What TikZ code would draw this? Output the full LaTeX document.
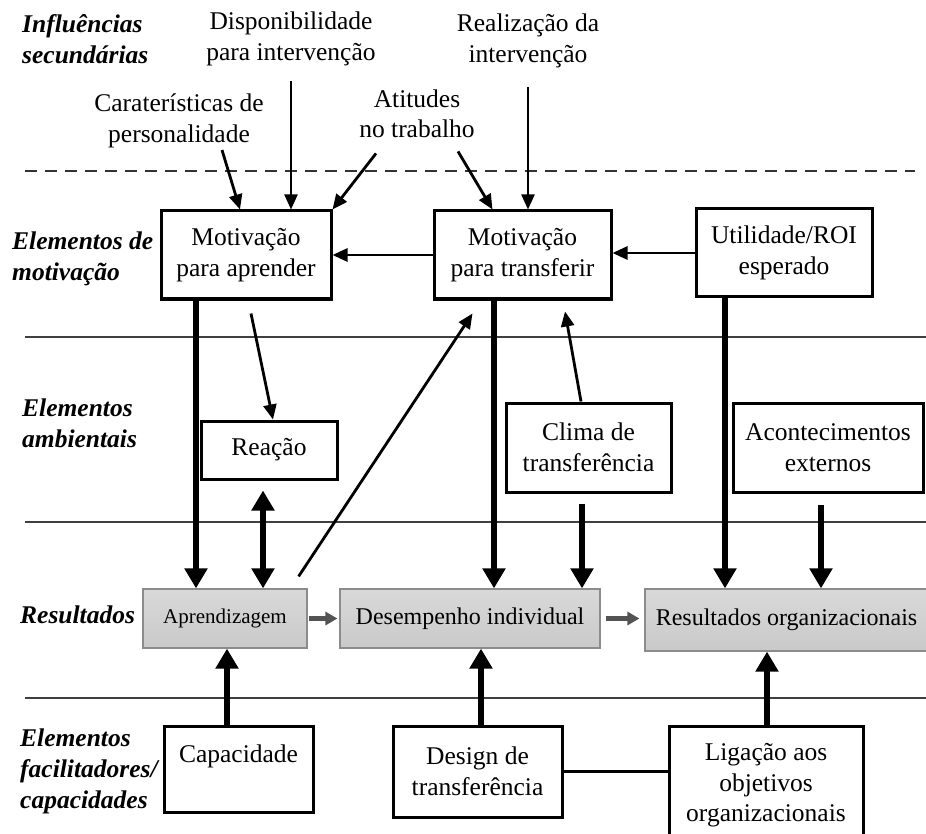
\documentclass[tikz,border=0pt]{standalone}
\usepackage{fontspec}
\setmainfont{Liberation Serif}
\usetikzlibrary{arrows.meta, positioning}

\begin{document}
\begin{tikzpicture}[x=1pt, y=-1pt,
    txt/.style={font=\fontsize{25.5}{30.5}\selectfont, align=center, inner sep=2pt},
    lab/.style={font=\fontsize{25.5}{31}\selectfont\bfseries\itshape, align=left, anchor=west, inner sep=0pt},
    box/.style={txt, draw, line width=3pt, fill=white},
    resbox/.style={font=\fontsize{24}{30}\selectfont, draw=gray!90, line width=1.2pt, top color=gray!30, bottom color=gray!42},
    divider/.style={line width=2pt, black!75},
    dashdiv/.style={line width=2pt, black!80, dash pattern=on 12pt off 8pt},
    arrthin/.style={-{Triangle[width=13pt,length=15pt]}, line width=2.8pt},
    arrthick/.style={-{Triangle[width=22pt,length=20pt]}, line width=6pt},
    arrgray/.style={-{Triangle[width=13pt,length=12pt]}, line width=4.5pt, gray!65!black}]

    \useasboundingbox (0,0) rectangle (926,834);

    % Divisorias
    \draw[dashdiv] (25,171) -- (915,171);
    \draw[divider] (25,337) -- (926,337);
    \draw[divider] (25,522) -- (926,522);
    \draw[divider] (25,698) -- (926,698);

    % Niveis
    \node[lab] (infl) at (22,39) {Influências\\secundárias};
    \node[lab] (motiv) at (12,259) {Elementos de\\motivação};
    \node[lab] (ambi) at (22,423) {Elementos\\ambientais};
    \node[lab] (resul) at (20,615) {Resultados};
    \node[lab] (facil) at (20,771) {Elementos\\facilitadores/\\capacidades};

    % Influencias secundarias
    \node[txt] (disp) at (291,39) {Disponibilidade\\para intervenção};
    \node[txt] (real) at (528,41) {Realização da\\intervenção};
    \node[txt] (cara) at (179,121) {Caraterísticas de\\personalidade};
    \node[txt] (atit) at (417,114) {Atitudes\\no trabalho};

    % Motivacao
    \node[box, minimum width=170pt, minimum height=88pt] (mapr) at (246,255) {Motivação\\para aprender};
    \node[box, minimum width=177pt, minimum height=88pt] (mtra) at (522.5,255) {Motivação\\para transferir};
    \node[box, minimum width=176pt, minimum height=88pt] (util) at (784,253) {Utilidade/ROI\\esperado};

    % Ambientais
    \node[box, minimum width=136pt, minimum height=58pt] (reac) at (269,450) {Reação};
    \node[box, minimum width=165pt, minimum height=89pt] (clima) at (588.5,447.5) {Clima de\\transferência};
    \node[box, minimum width=190pt, minimum height=89pt] (acont) at (828,447.5) {Acontecimentos\\externos};

    % Resultados
    \node[resbox, font=\fontsize{21}{26}\selectfont, minimum width=164pt, minimum height=59pt] (aprend) at (225,618.5) {Aprendizagem};
    \node[resbox, minimum width=260pt, minimum height=59pt] (desemp) at (470,618.5) {Desempenho individual};
    \node[resbox, minimum width=283pt, minimum height=62pt] (resorg) at (786.5,620) {Resultados organizacionais};

    % Facilitadores
    \node[box, minimum width=149pt, minimum height=86pt] (capac) at (238.5,769) {Capacidade\\~};
    \node[box, minimum width=169pt, minimum height=91pt] (design) at (477.5,771.5) {Design de\\transferência};
    \node[box, minimum width=194pt, minimum height=119pt] (ligac) at (766,785.5) {Ligação aos\\objetivos\\organizacionais};

    % Setas superiores
    \draw[arrthin] ([xshift=43pt]cara.south) -- ([xshift=-6pt]mapr.north);
    \draw[arrthin, line width=2.3pt] ([yshift=-13pt]disp.south) -- (disp.south |- mapr.north);
    \draw[arrthin] ([xshift=-41pt,yshift=-13pt]atit.south) -- (mapr.north east);
    \draw[arrthin] ([xshift=41pt,yshift=-11pt]atit.south) -- ([xshift=-30pt]mtra.north);
    \draw[arrthin, line width=2.3pt] ([yshift=-17pt]real.south) -- (real.south |- mtra.north);
    \draw[arrthin] (mtra.west) -- (mapr.east);
    \draw[arrthin] (util.west) -- (util.west -| mtra.east);

    % Setas centrais
    \draw[arrthick] ([xshift=-50pt]mapr.south) -- ([xshift=-50pt]mapr.south |- aprend.north);
    \draw[arrthin] ([xshift=5pt,yshift=-13pt]mapr.south) -- ([xshift=4pt]reac.north);
    \draw[arrthick, {Triangle[width=22pt,length=20pt]}-{Triangle[width=22pt,length=20pt]}]
        ([xshift=-6pt,yshift=-10pt]reac.south) -- ([xshift=-6pt]reac.south |- aprend.north);
    \draw[arrthin] ([xshift=-9pt,yshift=12pt]aprend.north east) -- ([xshift=-50pt,yshift=-13pt]mtra.south);
    \draw[arrthick] ([xshift=-28.5pt]mtra.south) -- ([xshift=-28.5pt]mtra.south |- desemp.north);
    \draw[arrthin] ([xshift=-7.5pt]clima.north) -- ([xshift=42.5pt,yshift=-11pt]mtra.south);
    \draw[arrthick] ([xshift=-6.5pt,yshift=-10pt]clima.south) -- ([xshift=-6.5pt]clima.south |- desemp.north);
    \draw[arrthick] ([xshift=-59pt]util.south) -- ([xshift=-59pt]util.south |- resorg.north);
    \draw[arrthick] ([xshift=-7pt,yshift=-11pt]acont.south) -- ([xshift=-7pt]acont.south |- resorg.north);

    % Setas entre resultados
    \draw[arrgray, shorten <=1pt, shorten >=2pt] (aprend.east) -- (desemp.west);
    \draw[arrgray, shorten <=5pt, shorten >=5pt] (desemp.east) -- (desemp.east -| resorg.west);

    % Setas inferiores
    \draw[arrthick] ([xshift=-11.5pt]capac.north) -- ([xshift=-11.5pt]capac.north |- aprend.south);
    \draw[arrthick] ([xshift=3.5pt]design.north) -- ([xshift=3.5pt]design.north |- desemp.south);
    \draw[arrthick] ([xshift=1pt]ligac.north) -- ([xshift=1pt]ligac.north |- resorg.south);
    \draw[line width=3pt] (design.east) -- (design.east -| ligac.west);

\end{tikzpicture}
\end{document}
